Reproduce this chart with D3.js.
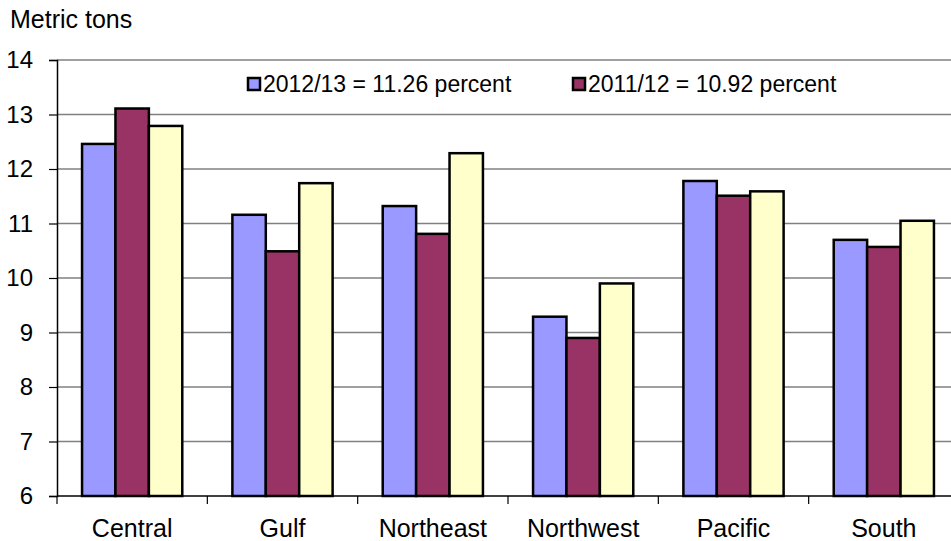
<!DOCTYPE html>
<html>
<head>
<meta charset="utf-8">
<script src="https://cdn.jsdelivr.net/npm/d3@7"></script>
<style>
  html, body { margin: 0; padding: 0; background: #fff; }
  svg { display: block; font-family: "Liberation Sans", Arial, sans-serif; }
</style>
</head>
<body>
<svg id="chart" width="951" height="541"></svg>
<script>
// ---- data ----
const regions = ['Central', 'Gulf', 'Northeast', 'Northwest', 'Pacific', 'South'];
const series = ['2012/13', '2011/12', 'avg'];
const v2012 = [12.46, 11.16, 11.32, 9.29, 11.78, 10.70];
const v2011 = [13.11, 10.49, 10.81, 8.90, 11.51, 10.57];
const vAvg  = [12.79, 11.74, 12.29, 9.90, 11.59, 11.05];
const legendLabels = ['2012/13 = 11.26 percent', '2011/12 = 10.92 percent'];
const yTicks = [6, 7, 8, 9, 10, 11, 12, 13, 14];
const colors = ['#9999ff', '#993366', '#ffffcc'];

const svg = d3.select('#chart');
const M = { left: 57, top: 60, right: 959, bottom: 496 };
const FONT = '"Liberation Sans", Arial, sans-serif';

const x = d3.scaleBand().domain(regions).range([M.left, M.right]).paddingInner(0).paddingOuter(0);
const xs = d3.scaleBand().domain(series).range([x.bandwidth() / 6, x.bandwidth() * 5 / 6]);
const y = d3.scaleLinear().domain([6, 14]).range([M.bottom, M.top]);

// gridlines
svg.append('g').selectAll('line').data(yTicks.filter(d => d > 6)).join('line')
  .attr('x1', M.left).attr('x2', 951)
  .attr('y1', d => y(d)).attr('y2', d => y(d))
  .attr('stroke', '#808080').attr('stroke-width', 1.5);

// y axis
const yAxis = svg.append('g').attr('transform', `translate(${M.left},0)`)
  .call(d3.axisLeft(y).tickValues(yTicks).tickSize(8).tickPadding(16).tickFormat(d3.format('d')));
yAxis.select('.domain').attr('stroke', '#000').attr('stroke-width', 1.5);
yAxis.selectAll('.tick line').attr('stroke', '#000').attr('stroke-width', 1.2);
yAxis.selectAll('.tick text').attr('fill', '#000').style('font-size', '24px').style('font-family', FONT);

// x axis
const xAxis = svg.append('g').attr('transform', `translate(0,${M.bottom})`)
  .call(d3.axisBottom(x).tickSize(0).tickPadding(23));
xAxis.select('.domain').remove();
xAxis.selectAll('.tick text').attr('fill', '#000').style('font-size', '25px').style('font-family', FONT);
svg.append('line').attr('x1', M.left).attr('x2', 951).attr('y1', M.bottom).attr('y2', M.bottom)
  .attr('stroke', '#000').attr('stroke-width', 1.5);
// category separator ticks
svg.append('g').selectAll('line').data(regions).join('line')
  .attr('x1', d => x(d)).attr('x2', d => x(d))
  .attr('y1', M.bottom).attr('y2', M.bottom + 8)
  .attr('stroke', '#000').attr('stroke-width', 1.2);

// bars
const rows = regions.map((r, i) => ({ region: r, vals: [v2012[i], v2011[i], vAvg[i]] }));
const groups = svg.append('g').selectAll('g').data(rows).join('g')
  .attr('transform', d => `translate(${x(d.region)},0)`);
groups.selectAll('rect').data(d => d.vals.map((v, k) => ({ s: series[k], v, k }))).join('rect')
  .attr('x', d => xs(d.s)).attr('width', xs.bandwidth())
  .attr('y', d => y(d.v)).attr('height', d => y(6) - y(d.v))
  .attr('fill', d => colors[d.k]).attr('stroke', '#000').attr('stroke-width', 2.5);

// title
svg.append('text').attr('x', 10).attr('y', 28).style('font-size', '25px').attr('fill', '#000')
  .text('Metric tons');

// legend
const legX = [248, 573];
legendLabels.forEach((t, i) => {
  svg.append('rect').attr('x', legX[i]).attr('y', 78).attr('width', 12).attr('height', 12)
    .attr('fill', colors[i]).attr('stroke', '#000').attr('stroke-width', 2.5);
  svg.append('text').attr('x', legX[i] + 15).attr('y', 91.5).style('font-size', '23px').attr('fill', '#000')
    .text(t);
});
</script>
</body>
</html>
